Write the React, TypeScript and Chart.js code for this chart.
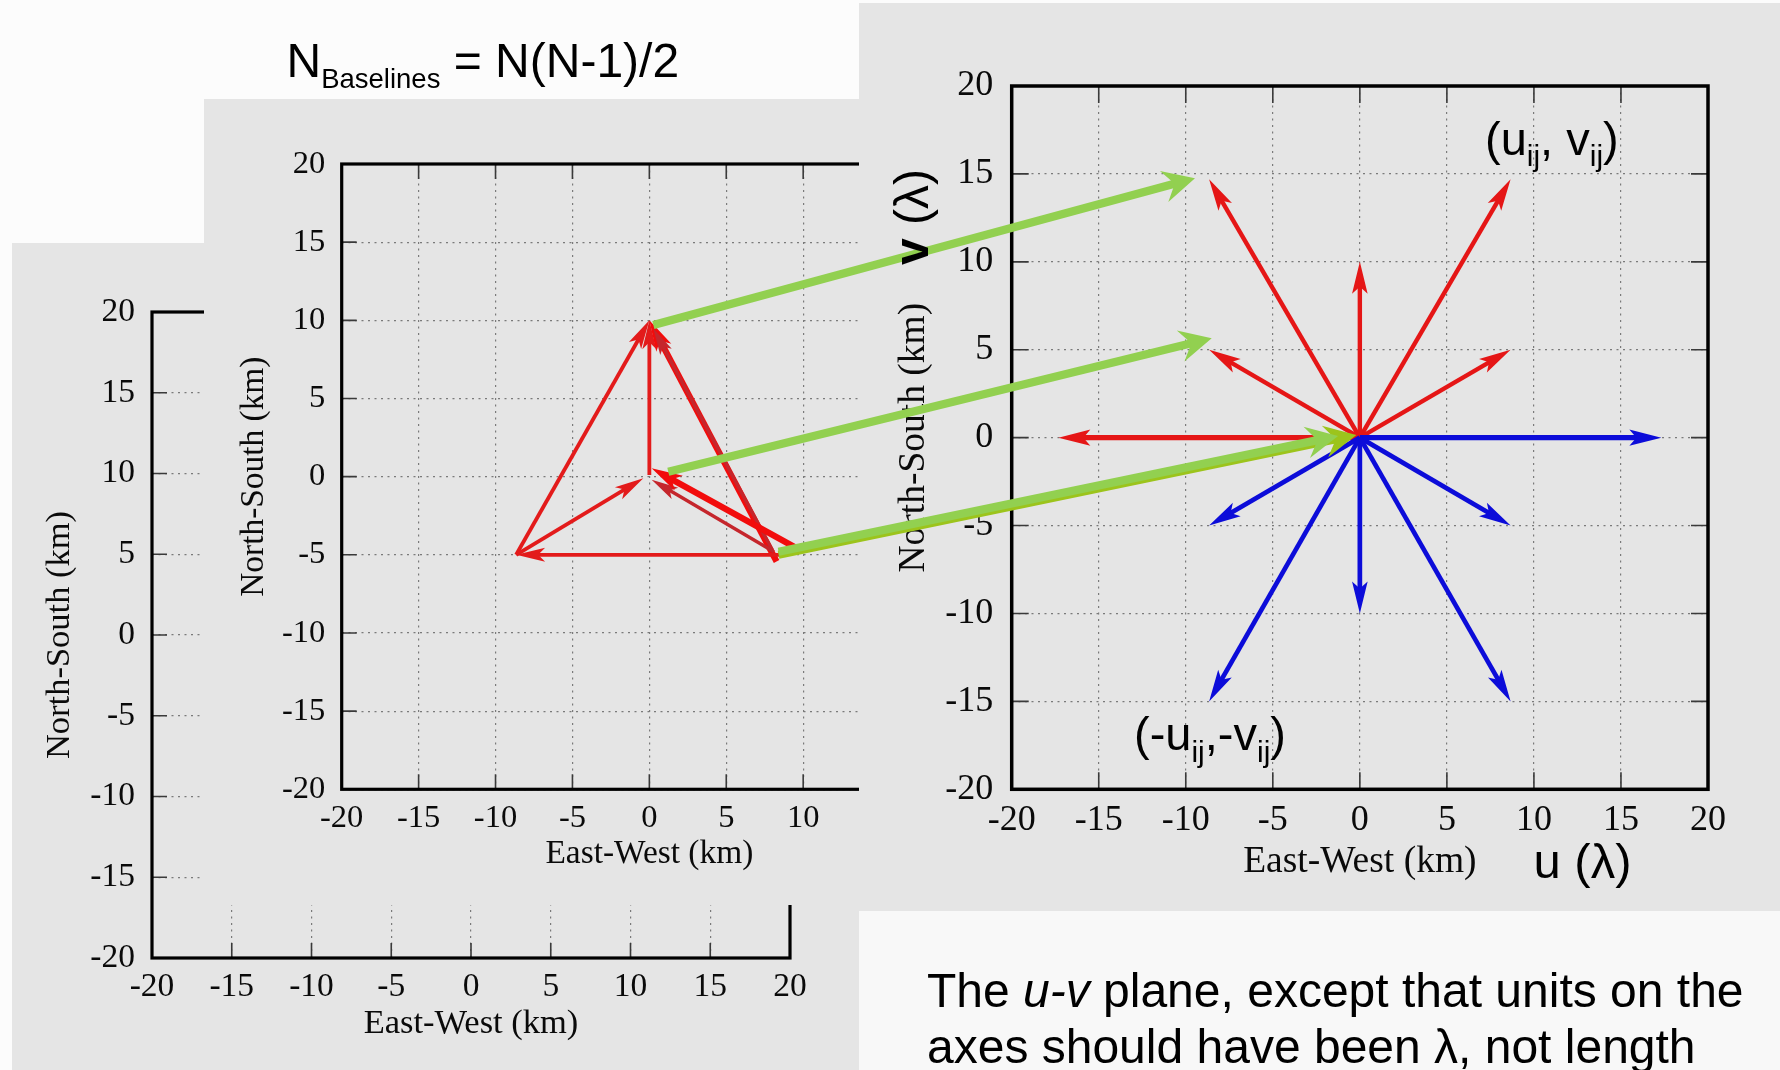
import React, { useEffect, useRef } from 'react';
import { Chart, registerables } from 'chart.js';

Chart.register(...registerables);

const PAGE_W = 1780;
const PAGE_H = 1070;
const SERIF = '"Liberation Serif", "Times New Roman", serif';
const SANS = '"Liberation Sans", Arial, sans-serif';
const PANEL_GREY = '#e5e5e5';

// Shared axis range and tick values (km) for all three plots
const AXIS_MIN = -20;
const AXIS_MAX = 20;
const axisTicks = [-20, -15, -10, -5, 0, 5, 10, 15, 20];

// Array plane: baselines between antenna pairs and the array centre, [x0, y0, x1, y1] in km
const arrayBaselines: number[][] = [
  [0, 0.1, 0, 10],
  [-8.66, -5, 0, 10],
  [8.27, -5.43, 0, 10],
  [8.0, -4.7, 0.25, 9.5],
  [8.7, -5, -8.66, -5],
  [-8.66, -5, -0.39, -0.1],
  [8.1, -4.8, 0.15, -0.2],
  [9.79, -4.69, 0.15, 0.54],
];
const baselineWeights = ['thin', 'thin', 'thick', 'dark', 'thin', 'thin', 'dark', 'thick'];

// u-v plane: baseline vectors (u, v) and their mirrored counterparts (-u, -v)
const uvPoints: number[][] = [
  [-8.66, 14.7],
  [8.66, 14.7],
  [0, 10],
  [-8.66, 5],
  [8.66, 5],
  [-17.32, 0],
];
const uvMirror: number[][] = [
  [17.32, 0],
  [-8.66, -5],
  [8.66, -5],
  [0, -10],
  [-8.66, -15],
  [8.66, -15],
];

// Links from array-plane points (km) to the matching u-v points
const linkFrom: number[][] = [
  [0.26, 9.7],
  [1.23, 0.32],
  [8.4, -4.8],
  [8.4, -5.0],
];
const linkTo: number[][] = [
  [-9.47, 14.76],
  [-8.51, 5.65],
  [-1.25, 0.1],
  [-0.2, 0.15],
];

interface ArrowStyle {
  color: string;
  width: number;
  len: number;
  half: number;
  notch: number;
}

const arrowStyles: Record<string, ArrowStyle> = {
  thin: { color: '#e31b1b', width: 3.8, len: 29, half: 7, notch: 22 },
  dark: { color: '#c5262c', width: 3.4, len: 27, half: 6.5, notch: 21 },
  thick: { color: '#f20c0c', width: 6.2, len: 31, half: 8.5, notch: 23 },
  uvRed: { color: '#e51616', width: 4.4, len: 32, half: 7.8, notch: 25 },
  uvRedWide: { color: '#e51616', width: 5.2, len: 32, half: 8.2, notch: 25 },
  uvBlue: { color: '#0c0cd9', width: 4.7, len: 32, half: 7.8, notch: 25 },
  uvBlueWide: { color: '#0c0cd9', width: 5.2, len: 32, half: 8.2, notch: 25 },
  link: { color: '#92d050', width: 8.2, len: 32, half: 16, notch: 21 },
  linkAlt: { color: '#9cc41c', width: 8.2, len: 32, half: 16, notch: 21 },
};

type Rect = [number, number, number, number];

interface PlotSpec {
  panels: { rect: Rect; color: string }[];
  padding: { left: number; top: number; right: number; bottom: number };
  yAxisWidth: number;
  xAxisHeight: number;
  tickSize: number;
  titleSize: number;
  tickPadX: number;
  tickPadY: number;
  innerTick: number;
  frameWidth: number;
  segments: number[][];
  styles: ArrowStyle[];
  overlay?: (chart: Chart) => void;
}

function drawArrow(
  ctx: CanvasRenderingContext2D,
  x0: number,
  y0: number,
  x1: number,
  y1: number,
  st: ArrowStyle,
) {
  const dx = x1 - x0;
  const dy = y1 - y0;
  const len = Math.hypot(dx, dy) || 1;
  const ux = dx / len;
  const uy = dy / len;
  const nx = -uy;
  const ny = ux;
  const shaftEnd = st.notch * 0.7;
  ctx.strokeStyle = st.color;
  ctx.lineWidth = st.width;
  ctx.lineCap = 'butt';
  ctx.beginPath();
  ctx.moveTo(x0, y0);
  ctx.lineTo(x1 - ux * shaftEnd, y1 - uy * shaftEnd);
  ctx.stroke();
  ctx.fillStyle = st.color;
  ctx.beginPath();
  ctx.moveTo(x1, y1);
  ctx.lineTo(x1 - ux * st.len + nx * st.half, y1 - uy * st.len + ny * st.half);
  ctx.lineTo(x1 - ux * st.notch, y1 - uy * st.notch);
  ctx.lineTo(x1 - ux * st.len - nx * st.half, y1 - uy * st.len - ny * st.half);
  ctx.closePath();
  ctx.fill();
}

interface Run {
  t: string;
  size: number;
  dy?: number;
  style?: string;
  weight?: string;
}

function drawRuns(ctx: CanvasRenderingContext2D, runs: Run[], x: number, y: number) {
  let cx = x;
  for (const r of runs) {
    ctx.font = `${r.style ?? 'normal'} ${r.weight ?? 'normal'} ${r.size}px ${SANS}`;
    ctx.fillText(r.t, cx, y + (r.dy ?? 0));
    cx += ctx.measureText(r.t).width;
  }
}

function buildChart(canvas: HTMLCanvasElement, spec: PlotSpec): Chart {
  const datasets = spec.segments.map((s) => ({
    data: [
      { x: s[0], y: s[1] },
      { x: s[2], y: s[3] },
    ],
    showLine: false,
    pointRadius: 0,
    pointHoverRadius: 0,
    pointHitRadius: 0,
  }));

  const axis = (title: string, isX: boolean) => ({
    type: 'linear',
    min: AXIS_MIN,
    max: AXIS_MAX,
    afterBuildTicks: (s: any) => {
      s.ticks = axisTicks.map((value) => ({ value }));
    },
    afterFit: (s: any) => {
      if (isX) s.height = spec.xAxisHeight;
      else s.width = spec.yAxisWidth;
    },
    ticks: {
      autoSkip: false,
      maxRotation: 0,
      minRotation: 0,
      padding: isX ? spec.tickPadX : spec.tickPadY,
      color: '#0a0a0a',
      font: { family: SERIF, size: spec.tickSize },
      callback: (v: number) => String(v),
    },
    grid: { color: '#7a7a7a', lineWidth: 1.2, drawTicks: false },
    border: { display: false, dash: [2, 4.5] },
    title: {
      display: true,
      text: title,
      color: '#0a0a0a',
      font: { family: SERIF, size: spec.titleSize },
      padding: { top: 4, bottom: 4 },
    },
  });

  const plugin = {
    id: 'gnuplotFrame',
    beforeDraw(chart: Chart) {
      const ctx = chart.ctx;
      ctx.save();
      for (const p of spec.panels) {
        ctx.fillStyle = p.color;
        ctx.fillRect(p.rect[0], p.rect[1], p.rect[2], p.rect[3]);
      }
      ctx.restore();
    },
    beforeDatasetsDraw(chart: Chart) {
      const ctx = chart.ctx;
      const { left, right, top, bottom } = chart.chartArea;
      const xs = chart.scales.x;
      const ys = chart.scales.y;
      const L = spec.innerTick;
      ctx.save();
      ctx.strokeStyle = '#3a3a3a';
      ctx.lineWidth = 1.6;
      ctx.beginPath();
      for (const v of axisTicks) {
        if (v === AXIS_MIN || v === AXIS_MAX) continue;
        const px = xs.getPixelForValue(v);
        const py = ys.getPixelForValue(v);
        ctx.moveTo(px, bottom);
        ctx.lineTo(px, bottom - L);
        ctx.moveTo(px, top);
        ctx.lineTo(px, top + L);
        ctx.moveTo(left, py);
        ctx.lineTo(left + L, py);
        ctx.moveTo(right, py);
        ctx.lineTo(right - L, py);
      }
      ctx.stroke();
      ctx.strokeStyle = '#000';
      ctx.lineWidth = spec.frameWidth;
      ctx.strokeRect(left, top, right - left, bottom - top);
      ctx.restore();
    },
    afterDatasetsDraw(chart: Chart) {
      const ctx = chart.ctx;
      ctx.save();
      chart.data.datasets.forEach((_d, i) => {
        const meta = chart.getDatasetMeta(i);
        const a = meta.data[0] as any;
        const b = meta.data[1] as any;
        drawArrow(ctx, a.x, a.y, b.x, b.y, spec.styles[i]);
      });
      ctx.restore();
    },
    afterDraw(chart: Chart) {
      if (spec.overlay) spec.overlay(chart);
    },
  };

  return new Chart(canvas, {
    type: 'scatter',
    data: { datasets } as any,
    options: {
      responsive: false,
      maintainAspectRatio: false,
      devicePixelRatio: 1,
      animation: false,
      events: [],
      layout: { padding: spec.padding },
      plugins: { legend: { display: false }, tooltip: { enabled: false } },
      scales: {
        x: axis('East-West (km)', true) as any,
        y: axis('North-South (km)', false) as any,
      },
    },
    plugins: [plugin as any],
  });
}

function drawOverlay(chart: Chart, mid: Chart) {
  const ctx = chart.ctx;
  const mx = mid.scales.x;
  const my = mid.scales.y;
  const ux = chart.scales.x;
  const uy = chart.scales.y;
  ctx.save();
  const order = [3, 2, 1, 0];
  for (const i of order) {
    const st = i === 3 ? arrowStyles.linkAlt : arrowStyles.link;
    drawArrow(
      ctx,
      mx.getPixelForValue(linkFrom[i][0]),
      my.getPixelForValue(linkFrom[i][1]),
      ux.getPixelForValue(linkTo[i][0]),
      uy.getPixelForValue(linkTo[i][1]),
      st,
    );
  }

  ctx.fillStyle = '#000';
  ctx.textAlign = 'left';
  ctx.textBaseline = 'alphabetic';

  // N_Baselines = N(N-1)/2
  drawRuns(
    ctx,
    [
      { t: 'N', size: 48 },
      { t: 'Baselines', size: 27.5, dy: 11 },
      { t: ' = N(N-1)/2', size: 48 },
    ],
    286.5,
    77,
  );

  // (u_ij, v_ij)
  drawRuns(
    ctx,
    [
      { t: '(u', size: 47 },
      { t: 'ij', size: 30, dy: 11 },
      { t: ', v', size: 47 },
      { t: 'ij', size: 30, dy: 11 },
      { t: ')', size: 47 },
    ],
    1485,
    155,
  );

  // (-u_ij,-v_ij)
  drawRuns(
    ctx,
    [
      { t: '(-u', size: 47 },
      { t: 'ij', size: 30, dy: 12 },
      { t: ',-v', size: 47 },
      { t: 'ij', size: 30, dy: 12 },
      { t: ')', size: 47 },
    ],
    1134,
    750,
  );

  // u (λ) along the horizontal axis
  drawRuns(ctx, [{ t: 'u (λ)', size: 49 }], 1533.5, 878);

  // v (λ) along the vertical axis
  ctx.save();
  ctx.translate(928, 265);
  ctx.rotate(-Math.PI / 2);
  drawRuns(
    ctx,
    [
      { t: 'v', size: 48, weight: 'bold' },
      { t: ' (λ)', size: 48 },
    ],
    0,
    0,
  );
  ctx.restore();

  // caption
  drawRuns(
    ctx,
    [
      { t: 'The ', size: 48 },
      { t: 'u-v', size: 48, style: 'italic' },
      { t: ' plane, except that units on the', size: 48 },
    ],
    927,
    1006.7,
  );
  drawRuns(ctx, [{ t: 'axes should have been λ, not length', size: 48 }], 927, 1063);
  ctx.restore();
}

const backSpec: PlotSpec = {
  panels: [{ rect: [12, 243, 847, 827], color: PANEL_GREY }],
  padding: { left: 35.7, top: 312, right: 990, bottom: 21.3 },
  yAxisWidth: 116.3,
  xAxisHeight: 90.7,
  tickSize: 33.5,
  titleSize: 34.5,
  tickPadX: 9,
  tickPadY: 17,
  innerTick: 15,
  frameWidth: 3.2,
  segments: [],
  styles: [],
};

const arraySpec: PlotSpec = {
  panels: [{ rect: [204, 99, 655, 806], color: PANEL_GREY }],
  padding: { left: 230, top: 164, right: 823, bottom: 191.8 },
  yAxisWidth: 111.7,
  xAxisHeight: 88.9,
  tickSize: 32.5,
  titleSize: 33.4,
  tickPadX: 9.3,
  tickPadY: 16.5,
  innerTick: 15,
  frameWidth: 3.2,
  segments: arrayBaselines,
  styles: baselineWeights.map((w) => arrowStyles[w]),
};

const uvSegments = [
  ...uvPoints.map((p) => [0, 0, p[0], p[1]]),
  ...uvMirror.map((p) => [0, 0, p[0], p[1]]),
];
const uvStyles = [
  ...uvPoints.map((p) => (p[1] === 0 ? arrowStyles.uvRedWide : arrowStyles.uvRed)),
  ...uvMirror.map((p) => (p[1] === 0 ? arrowStyles.uvBlueWide : arrowStyles.uvBlue)),
];

const uvSpec: PlotSpec = {
  panels: [
    { rect: [859, 3, 921, 908], color: PANEL_GREY },
    { rect: [859, 911, 921, 159], color: '#f8f8f8' },
  ],
  padding: { left: 887.5, top: 86, right: 72, bottom: 181 },
  yAxisWidth: 124.2,
  xAxisHeight: 99.7,
  tickSize: 36,
  titleSize: 37.5,
  tickPadX: 9.2,
  tickPadY: 18.5,
  innerTick: 17,
  frameWidth: 3.5,
  segments: uvSegments,
  styles: uvStyles,
};

export default function App() {
  const backRef = useRef<HTMLCanvasElement>(null);
  const arrayRef = useRef<HTMLCanvasElement>(null);
  const uvRef = useRef<HTMLCanvasElement>(null);

  useEffect(() => {
    const back = buildChart(backRef.current!, backSpec);
    const arr = buildChart(arrayRef.current!, arraySpec);
    const uv = buildChart(uvRef.current!, {
      ...uvSpec,
      overlay: (chart) => drawOverlay(chart, arr),
    });
    return () => {
      uv.destroy();
      arr.destroy();
      back.destroy();
    };
  }, []);

  const canvasStyle: React.CSSProperties = {
    position: 'absolute',
    left: 0,
    top: 0,
    width: PAGE_W,
    height: PAGE_H,
  };

  return (
    <div
      style={{
        position: 'absolute',
        left: 0,
        top: 0,
        width: PAGE_W,
        height: PAGE_H,
        background: '#fcfcfc',
        overflow: 'hidden',
      }}
    >
      <canvas ref={backRef} width={PAGE_W} height={PAGE_H} style={canvasStyle} />
      <canvas ref={arrayRef} width={PAGE_W} height={PAGE_H} style={canvasStyle} />
      <canvas ref={uvRef} width={PAGE_W} height={PAGE_H} style={canvasStyle} />
    </div>
  );
}
